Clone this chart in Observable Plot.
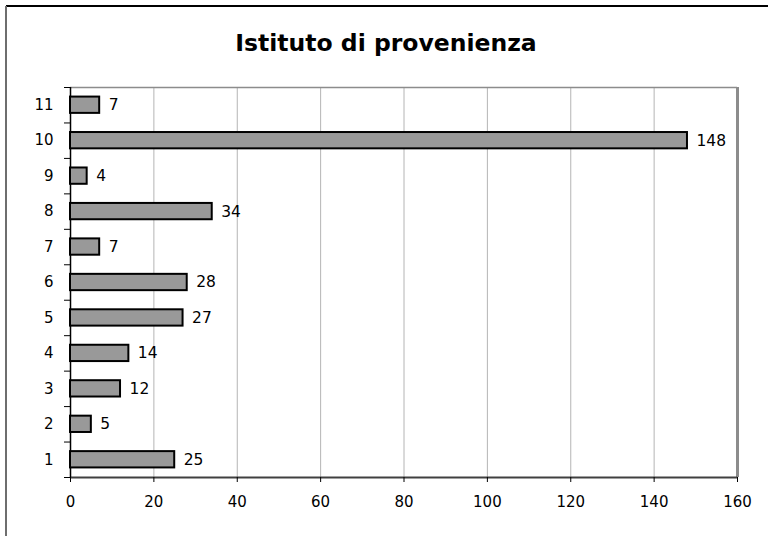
<!DOCTYPE html>
<html>
<head>
<meta charset="utf-8">
<script src="https://cdn.jsdelivr.net/npm/d3@7"></script>
<script src="https://cdn.jsdelivr.net/npm/@observablehq/plot@0.6"></script>
<style>
  body { margin: 0; background: #fff; }
  #wrap { position: relative; width: 768px; height: 536px; overflow: hidden; }
  #frameTop { position: absolute; left: 6px; top: 5px; width: 762px; height: 2px; background: #000; }
  #frameLeft { position: absolute; left: 5px; top: 6px; width: 2px; height: 530px; background: #6e6e6e; }
  #title { position: absolute; left: 2px; width: 768px; top: 29px; line-height: 26px; text-align: center; font: bold 23.5px "DejaVu Sans", sans-serif; color: #000; }
  #chart { position: absolute; left: 0; top: 0; }
</style>
</head>
<body>
<div id="wrap">
  <div id="frameTop"></div>
  <div id="frameLeft"></div>
  <div id="title">Istituto di provenienza</div>
  <div id="chart"></div>
</div>
<script>
const categories = [1, 2, 3, 4, 5, 6, 7, 8, 9, 10, 11];
const values = [25, 5, 12, 14, 27, 28, 7, 34, 4, 148, 7];
const xTicks = [0, 20, 40, 60, 80, 100, 120, 140, 160];

const data = categories.map((c, i) => ({cat: c, value: values[i]}));
const boundaries = [...categories.map(c => c - 0.5), categories[categories.length - 1] + 0.5];
const half = 0.23;

const chart = Plot.plot({
  width: 768,
  height: 536,
  marginLeft: 70,
  marginRight: 31,
  marginTop: 87,
  marginBottom: 59,
  style: {fontFamily: "'DejaVu Sans', sans-serif", fontSize: "15px", color: "#000", background: "transparent"},
  x: {domain: [0, 160]},
  y: {domain: [0.5, 11.5]},
  marks: [
    Plot.ruleX(xTicks.filter(t => t > 0 && t < 160), {stroke: "#b4b4b4", strokeWidth: 1}),
    Plot.ruleY([11.5], {stroke: "#8c8c8c", strokeWidth: 1.5}),
    Plot.ruleX([160], {stroke: "#8c8c8c", strokeWidth: 3}),
    Plot.ruleY([0.5], {stroke: "#404040", strokeWidth: 2}),
    Plot.ruleX([0], {stroke: "#000", strokeWidth: 1.5}),
    Plot.rectX(data, {x1: 0, x2: "value", y1: d => d.cat - half, y2: d => d.cat + half, fill: "#999999", stroke: "#000", strokeWidth: 2}),
    Plot.text(data, {x: "value", y: "cat", text: d => String(d.value), textAnchor: "start", dx: 9, fontSize: 15.5, fill: "#000"}),
    Plot.axisX({ticks: xTicks, tickSize: 5, tickPadding: 14, tickFormat: d => String(d), fontSize: 15, label: null}),
    Plot.axisY({ticks: categories, tickSize: 0, tickPadding: 17, tickFormat: d => String(d), fontSize: 15, label: null}),
    Plot.axisY({ticks: boundaries, tickSize: 6, tickFormat: () => "", label: null})
  ]
});
document.getElementById("chart").appendChild(chart);
</script>
</body>
</html>
